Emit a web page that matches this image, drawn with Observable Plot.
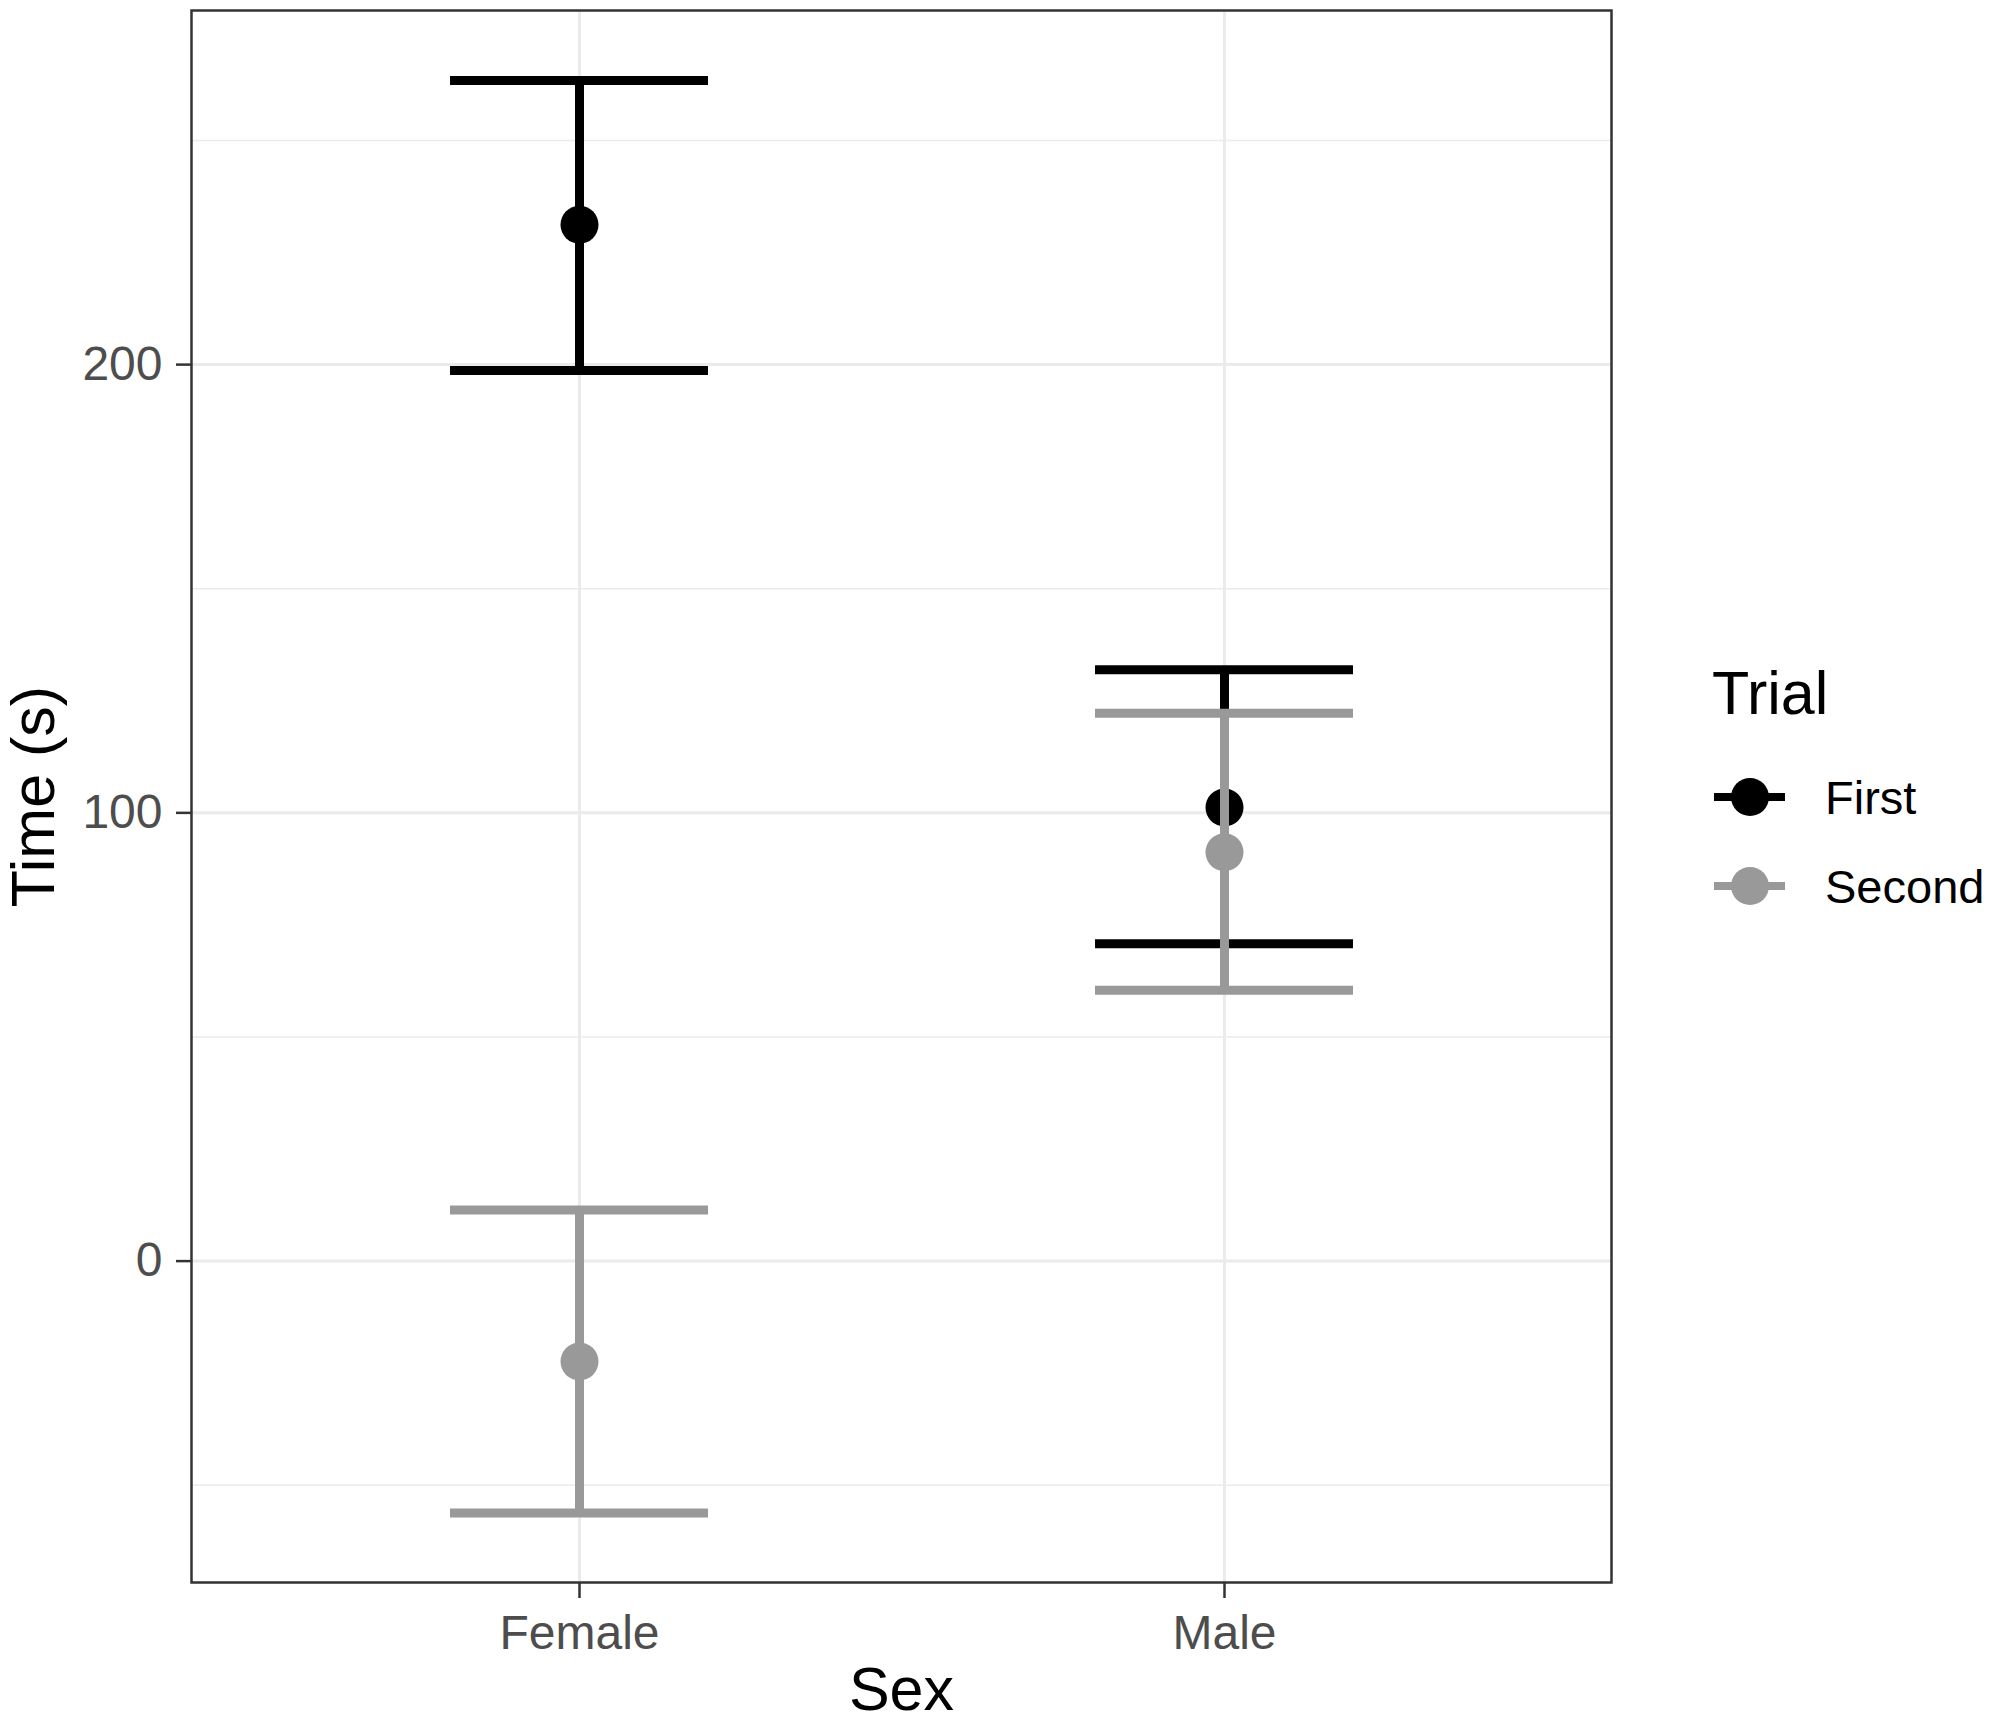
<!DOCTYPE html>
<html>
<head>
<meta charset="utf-8">
<script src="https://cdn.jsdelivr.net/npm/d3@7"></script>
<script src="https://cdn.jsdelivr.net/npm/@observablehq/plot@0.6"></script>
<style>
  html, body { margin: 0; padding: 0; background: #ffffff; }
  #wrap { position: relative; width: 1995px; height: 1729px; }
  #legend { position: absolute; left: 0; top: 0; pointer-events: none; }
</style>
</head>
<body>
<div id="wrap"></div>
<script>
// ---- data ----
const categories = ["Female", "Male"];
const trials = ["First", "Second"];
const trialColors = ["#000000", "#999999"];
const firstMean  = [231.2, 101.2];
const firstLower = [198.7, 70.8];
const firstUpper = [263.4, 131.9];
const secondMean  = [-22.4, 91.2];
const secondLower = [-56.2, 60.4];
const secondUpper = [11.4, 122.2];
const majorTicks = [0, 100, 200];
const minorTicks = [-50, 50, 150, 250];
const yDomain = [-71.7, 279.0];

const rows = [];
categories.forEach((s, i) => rows.push({sex: s, trial: "First", mean: firstMean[i], lower: firstLower[i], upper: firstUpper[i]}));
categories.forEach((s, i) => rows.push({sex: s, trial: "Second", mean: secondMean[i], lower: secondLower[i], upper: secondUpper[i]}));

const font = "'Liberation Sans', Arial, Helvetica, sans-serif";
const barW = 9;

const errorMarks = trials.flatMap(t => {
  const d = rows.filter(r => r.trial === t);
  return [
    Plot.ruleX(d, {x: "sex", y1: "lower", y2: "upper", stroke: "trial", strokeWidth: barW}),
    Plot.tickY(d, {x: "sex", y: "lower", stroke: "trial", strokeWidth: barW}),
    Plot.tickY(d, {x: "sex", y: "upper", stroke: "trial", strokeWidth: barW})
  ];
});

const chart = Plot.plot({
  width: 1995,
  height: 1729,
  marginLeft: 191,
  marginRight: 384,
  marginTop: 10,
  marginBottom: 147,
  style: {fontFamily: font, background: "#ffffff", color: "#000"},
  x: {type: "band", domain: categories, paddingInner: 0.6, paddingOuter: 0.4, label: null},
  y: {domain: yDomain, label: null},
  color: {domain: trials, range: trialColors},
  marks: [
    Plot.gridY(minorTicks, {stroke: "#ebebeb", strokeOpacity: 1, strokeWidth: 1.6}),
    Plot.gridY(majorTicks, {stroke: "#ebebeb", strokeOpacity: 1, strokeWidth: 3}),
    Plot.gridX(categories, {stroke: "#ebebeb", strokeOpacity: 1, strokeWidth: 3}),
    Plot.dot(rows, {x: "sex", y: "mean", fill: "trial", r: 19}),
    ...errorMarks,
    Plot.frame({stroke: "#333333", strokeWidth: 2.5}),
    Plot.axisY(majorTicks, {tickSize: 15, tickPadding: 14, stroke: "#333333", strokeWidth: 2.5, fill: "#4d4d4d", fontSize: 48, label: null}),
    Plot.axisX(categories, {tickSize: 16, tickPadding: 16, stroke: "#333333", strokeWidth: 2.5, fill: "#4d4d4d", fontSize: 48, label: null}),
    Plot.text(["Time (s)"], {frameAnchor: "left", rotate: -90, dx: -157, fontSize: 61, fill: "#000", lineAnchor: "middle", textAnchor: "middle"}),
    Plot.text(["Sex"], {frameAnchor: "bottom", dy: 108, fontSize: 61, fill: "#000", lineAnchor: "middle", textAnchor: "middle"})
  ]
});
document.getElementById("wrap").appendChild(chart);

// ---- legend ----
const ns = "http://www.w3.org/2000/svg";
const leg = document.createElementNS(ns, "svg");
leg.setAttribute("id", "legend");
leg.setAttribute("width", 1995);
leg.setAttribute("height", 1729);
leg.style.fontFamily = font;
const title = document.createElementNS(ns, "text");
title.setAttribute("x", 1712);
title.setAttribute("y", 714);
title.setAttribute("font-size", 61);
title.setAttribute("fill", "#000");
title.textContent = "Trial";
leg.appendChild(title);
const rowY = [797, 886];
trials.forEach((t, i) => {
  const y = rowY[i];
  const line = document.createElementNS(ns, "line");
  line.setAttribute("x1", 1714); line.setAttribute("x2", 1785);
  line.setAttribute("y1", y); line.setAttribute("y2", y);
  line.setAttribute("stroke", trialColors[i]); line.setAttribute("stroke-width", 8);
  leg.appendChild(line);
  const c = document.createElementNS(ns, "circle");
  c.setAttribute("cx", 1750); c.setAttribute("cy", y); c.setAttribute("r", 19);
  c.setAttribute("fill", trialColors[i]);
  leg.appendChild(c);
  const tx = document.createElementNS(ns, "text");
  tx.setAttribute("x", 1825); tx.setAttribute("y", y + 17);
  tx.setAttribute("font-size", 47); tx.setAttribute("fill", "#000");
  tx.textContent = t;
  leg.appendChild(tx);
});
document.getElementById("wrap").appendChild(leg);
</script>
</body>
</html>
